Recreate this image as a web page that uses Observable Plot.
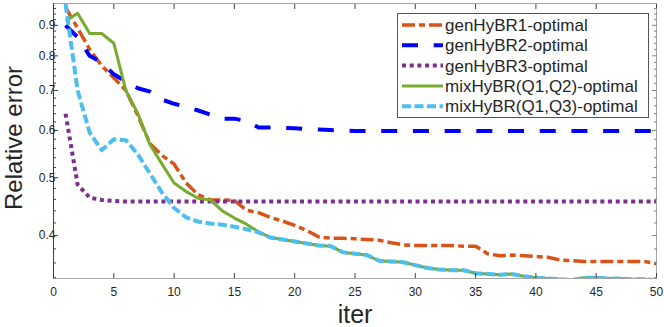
<!DOCTYPE html>
<html><head><meta charset="utf-8">
<script src="https://cdn.jsdelivr.net/npm/d3@7"></script>
<script src="https://cdn.jsdelivr.net/npm/@observablehq/plot@0.6"></script>
<style>
body{margin:0;background:#fff;}
#wrap{position:relative;width:664px;height:327px;font-family:"Liberation Sans",Arial,Helvetica,sans-serif;}
#legend{position:absolute;left:397px;top:13px;}
</style></head><body><div id="wrap"></div>
<script>
const iter = [1,2,3,4,5,6,7,8,9,10,11,12,13,14,15,16,17,18,19,20,21,22,23,24,25,26,27,28,29,30,31,32,33,34,35,36,37,38,39,40,41,42,43,44,45,46,47,48,49,50];
const genHyBR1 = [0.965,0.89,0.82,0.77,0.735,0.70,0.635,0.57,0.545,0.527,0.49,0.468,0.459,0.459,0.458,0.441,0.437,0.429,0.423,0.416,0.408,0.398,0.396,0.396,0.395,0.394,0.393,0.389,0.386,0.385,0.385,0.385,0.385,0.384,0.384,0.373,0.370,0.371,0.370,0.369,0.368,0.364,0.363,0.362,0.362,0.362,0.362,0.362,0.362,0.359];
const genHyBR2 = [0.90,0.86,0.80,0.78,0.745,0.725,0.706,0.697,0.676,0.665,0.657,0.648,0.638,0.628,0.628,0.622,0.607,0.607,0.606,0.605,0.603,0.602,0.601,0.600,0.599,0.599,0.599,0.599,0.599,0.599,0.599,0.599,0.599,0.599,0.599,0.599,0.599,0.599,0.599,0.599,0.599,0.599,0.599,0.599,0.599,0.599,0.599,0.599,0.599,0.599];
const genHyBR3 = [0.64,0.487,0.463,0.459,0.457,0.456,0.456,0.456,0.456,0.456,0.456,0.456,0.456,0.456,0.456,0.456,0.456,0.456,0.456,0.456,0.456,0.456,0.456,0.456,0.456,0.456,0.456,0.456,0.456,0.456,0.456,0.456,0.456,0.456,0.456,0.456,0.456,0.456,0.456,0.456,0.456,0.456,0.456,0.456,0.456,0.456,0.456,0.456,0.456,0.456];
const mixQ1Q2 = [0.915,0.943,0.872,0.872,0.84,0.70,0.64,0.568,0.527,0.49,0.474,0.462,0.459,0.44,0.428,0.418,0.406,0.397,0.394,0.391,0.388,0.385,0.384,0.375,0.373,0.371,0.363,0.362,0.361,0.357,0.353,0.351,0.350,0.350,0.346,0.345,0.344,0.345,0.342,0.340,0.339,0.338,0.337,0.340,0.340,0.339,0.339,0.338,0.338,0.337];
const mixQ1Q3 = [0.978,0.70,0.595,0.556,0.58,0.578,0.547,0.508,0.472,0.445,0.429,0.422,0.419,0.417,0.414,0.41,0.405,0.397,0.394,0.391,0.388,0.385,0.384,0.375,0.373,0.371,0.363,0.362,0.361,0.357,0.353,0.351,0.350,0.350,0.346,0.345,0.344,0.345,0.342,0.340,0.339,0.338,0.337,0.340,0.340,0.339,0.339,0.338,0.338,0.337];
const names = ["genHyBR1-optimal","genHyBR2-optimal","genHyBR3-optimal","mixHyBR(Q1,Q2)-optimal","mixHyBR(Q1,Q3)-optimal"];
const xTicks = [0,5,10,15,20,25,30,35,40,45,50];
const yMajor = [0.4,0.5,0.6,0.7,0.8,0.9];
const yMinor = [0.34,0.36,0.38,0.42,0.44,0.46,0.48,0.52,0.54,0.56,0.58,0.62,0.64,0.66,0.68,0.72,0.74,0.76,0.78,0.82,0.84,0.86,0.88,0.92,0.94,0.96];

const styles = [
  {values: genHyBR1, color:"#D95319", dash:"13,4,6,4", width:3.5},
  {values: genHyBR2, color:"#0000FF", dash:"16,15.7", width:4},
  {values: genHyBR3, color:"#7E2F8E", dash:"4,3.7", width:4},
  {values: mixQ1Q2, color:"#77AC30", dash:null, width:3},
  {values: mixQ1Q3, color:"#4DBEEE", dash:"9,3.5", width:4}
];
const series = styles.map((s,k)=>({...s, name: names[k]}));
const rows = series.flatMap(s => s.values.map((v,i)=>({iter: iter[i], value: v, name: s.name})));

const font = '"Liberation Sans",Arial,Helvetica,sans-serif';
const chart = Plot.plot({
  width:664, height:327, marginLeft:53, marginRight:8, marginTop:3, marginBottom:49,
  style:{fontFamily:font, fontSize:"12px", color:"#262626", background:"#fff"},
  x:{domain:[0,50]},
  y:{type:"log", domain:[0.339,0.979]},
  marks:[
    ...series.map(s => Plot.line(rows.filter(r=>r.name===s.name), {x:"iter", y:"value", stroke:s.color, strokeWidth:s.width, strokeDasharray:s.dash, strokeLinecap:"butt", strokeLinejoin:"round", clip:true})),
    Plot.frame({stroke:"#a6a6a6"}),
    Plot.ruleX([0], {stroke:"#404040"}),
    Plot.axisX({anchor:"bottom", ticks:xTicks, tickSize:-5, tickPadding:14, stroke:"#404040", label:null}),
    Plot.axisX({anchor:"top", ticks:xTicks, tickSize:-5, tickFormat:()=>"", stroke:"#404040", label:null}),
    Plot.axisY({anchor:"left", ticks:yMajor, tickSize:-5, tickPadding:3, tickFormat:d3.format(".1f"), stroke:"#404040", label:null}),
    Plot.axisY({anchor:"left", ticks:yMinor, tickSize:-3, tickFormat:()=>"", stroke:"#404040", label:null}),
    Plot.axisY({anchor:"right", ticks:yMajor, tickSize:-5, tickFormat:()=>"", stroke:"#808080", label:null}),
    Plot.axisY({anchor:"right", ticks:yMinor, tickSize:-3, tickFormat:()=>"", stroke:"#808080", label:null}),
    Plot.text(["Relative error"], {frameAnchor:"left", textAnchor:"middle", lineAnchor:"middle", rotate:-90, dx:-39, dy:-3, fontSize:24, fill:"#262626"}),
    Plot.text(["iter"], {frameAnchor:"bottom", textAnchor:"middle", lineAnchor:"middle", dy:36, fontSize:25, fill:"#262626"})
  ]
});
const wrap = document.getElementById("wrap");
wrap.appendChild(chart);

const lg = d3.create("svg").attr("id","legend").attr("width",252).attr("height",105).style("font-family",font);
lg.append("rect").attr("x",0.5).attr("y",0.5).attr("width",251).attr("height",104).attr("fill","#fff").attr("stroke","#555");
series.forEach((s,i)=>{
  const cy = 12 + i*20.3;
  lg.append("line").attr("x1",5).attr("x2",46).attr("y1",cy).attr("y2",cy)
    .attr("stroke",s.color).attr("stroke-width",s.width).attr("stroke-dasharray",s.dash);
  lg.append("text").attr("x",48).attr("y",cy).attr("dy","0.35em").attr("font-size",17).attr("fill","#262626").text(s.name);
});
wrap.appendChild(lg.node());
</script></body></html>
